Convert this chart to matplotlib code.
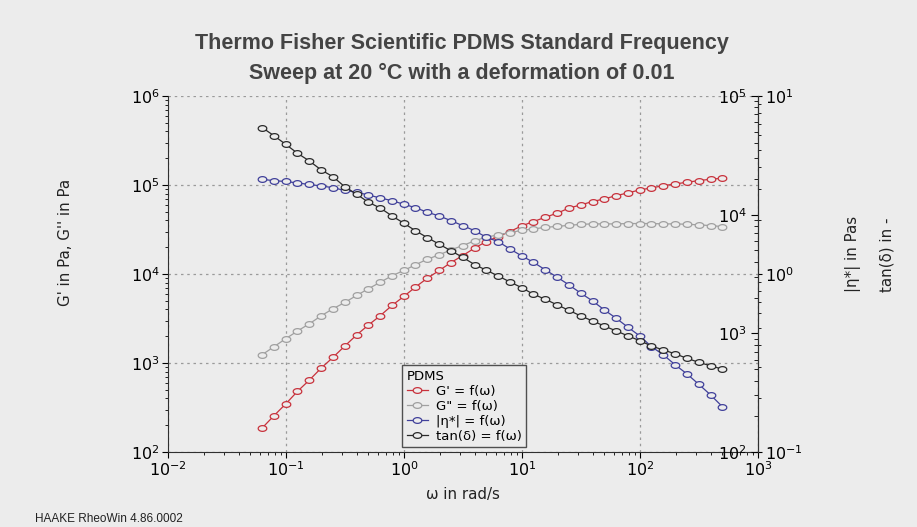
import numpy as np
import matplotlib
matplotlib.use("Agg")
import matplotlib.pyplot as plt

# angular frequency, rad/s
omega = [0.0628, 0.0791, 0.0995, 0.125, 0.158, 0.199, 0.250, 0.315, 0.396, 0.499,
         0.628, 0.791, 0.995, 1.25, 1.58, 1.99, 2.50, 3.15, 3.96, 4.99,
         6.28, 7.91, 9.95, 12.5, 15.8, 19.9, 25.0, 31.5, 39.6, 49.9,
         62.8, 79.1, 99.5, 125, 158, 199, 250, 315, 396, 499]

# storage modulus G', Pa
g_storage = [186, 256, 347, 480, 644, 879, 1156, 1552, 2062, 2668,
             3396, 4430, 5590, 7130, 8990, 10950, 13460, 16130, 19540, 23170,
             26370, 30000, 34750, 38800, 43500, 48300, 55000, 59800, 65200, 69800,
             76000, 81500, 88100, 92700, 98400, 102800, 107400, 112000, 116100, 119200]

# loss modulus G'', Pa
g_loss = [1240, 1524, 1875, 2286, 2762, 3396, 4068, 4786, 5736, 6823,
          8070, 9550, 10950, 12680, 14690, 16420, 18690, 20870, 23590, 25960,
          27540, 29220, 30930, 32150, 33420, 34290, 35210, 36140, 36560, 36560,
          36560, 36900, 36900, 36900, 36560, 36560, 36200, 35660, 35000, 34100]

# complex viscosity |eta*|, Pas
eta_complex = [19860, 19330, 19040, 18500, 17960, 17450, 16880, 15990, 15440, 14650,
               13830, 13120, 12240, 11450, 10470, 9750, 8900, 8080, 7330, 6450,
               5930, 5140, 4490, 3970, 3420, 2970, 2560, 2180, 1875, 1574,
               1340, 1125, 951, 773, 658, 542, 455, 372, 303, 241]

# loss factor tan(delta)
tan_delta = [6.65, 5.98, 5.35, 4.77, 4.31, 3.84, 3.52, 3.09, 2.81, 2.53,
             2.35, 2.12, 1.93, 1.75, 1.60, 1.47, 1.35, 1.24, 1.13, 1.05,
             0.975, 0.902, 0.838, 0.769, 0.721, 0.670, 0.625, 0.581, 0.545, 0.510,
             0.479, 0.449, 0.422, 0.394, 0.374, 0.356, 0.336, 0.319, 0.305, 0.292]

BG = "#ececec"
W, H = 917, 527

# open ellipse marker like RheoWin
theta = np.linspace(0, 2 * np.pi, 41)
ellipse = np.column_stack([1.5 * np.cos(theta), np.sin(theta)])

fig = plt.figure(figsize=(W / 100, H / 100), dpi=100, facecolor=BG)
ax = fig.add_axes([168 / W, 1 - 452 / H, (758 - 168) / W, (452 - 96) / H])
ax.set_facecolor(BG)
ax_eta = ax.twinx()
ax_tan = ax.twinx()

style = dict(marker=ellipse, markersize=6.2, markerfacecolor=BG, linewidth=0.9,
             markeredgewidth=0.9)
h1, = ax.plot(omega, g_storage, color="#c8323c", label="G' = f(\u03c9)", **style)
h2, = ax.plot(omega, g_loss, color="#a0a0a0", label='G" = f(\u03c9)', **style)
h3, = ax_eta.plot(omega, eta_complex, color="#40409a", label="|\u03b7*| = f(\u03c9)", **style)
h4, = ax_tan.plot(omega, tan_delta, color="#2a2a2a", label="tan(\u03b4) = f(\u03c9)", **style)

ax.set_xscale("log")
ax.set_yscale("log")
ax.set_xlim(1e-2, 1e3)
ax.set_ylim(1e2, 1e6)
ax.grid(True, which="major", linestyle=(0, (2, 3)), color="#9a9a9a", linewidth=0.9)
ax.set_axisbelow(True)
for s in ["top", "right"]:
    ax.spines[s].set_visible(False)
ax.tick_params(which="major", direction="out", length=4, labelsize=11.5, pad=2)
ax.tick_params(which="minor", direction="out", length=2.5)

# |eta*| axis: labels inside the plot, left of the right spine
ax_eta.set_yscale("log")
ax_eta.set_ylim(1e2, 1e5)
ax_eta.yaxis.set_ticks_position("left")
ax_eta.spines["left"].set_position(("axes", 1.0))
for s in ["top", "bottom", "right"]:
    ax_eta.spines[s].set_visible(False)
ax_eta.tick_params(axis="y", which="major", direction="out", length=5, labelsize=11.5, pad=3)
ax_eta.tick_params(axis="y", which="minor", direction="out", length=3)

# tan(delta) axis on the right
ax_tan.set_yscale("log")
ax_tan.set_ylim(1e-1, 1e1)
for s in ["top", "bottom", "left"]:
    ax_tan.spines[s].set_visible(False)
ax_tan.tick_params(axis="y", which="major", direction="out", length=3, labelsize=11.5, pad=2)
ax_tan.tick_params(axis="y", which="minor", direction="out", length=2)

for a in (ax, ax_eta, ax_tan):
    for sp in a.spines.values():
        sp.set_color("#303030")

leg = ax_tan.legend(handles=[h1, h2, h3, h4], title="PDMS", alignment="left",
                    loc="upper left", bbox_to_anchor=(402 / W, 1 - 365 / H),
                    bbox_transform=fig.transFigure, fontsize=9.5, title_fontsize=9.5,
                    fancybox=False, frameon=True, edgecolor="#505050", facecolor=BG,
                    framealpha=1, handlelength=1.6, handletextpad=0.6,
                    labelspacing=0.15, borderpad=0.35, borderaxespad=0)
leg.get_frame().set_linewidth(1.0)

# titles and axis labels
title_kw = dict(ha="center", va="center", fontsize=15.5, fontweight="bold",
                color="#444444", family="Liberation Sans")
fig.text(462 / W, 1 - 44 / H, "Thermo Fisher Scientific PDMS Standard Frequency", **title_kw)
fig.text(462 / W, 1 - 73 / H, "Sweep at 20 \u00b0C with a deformation of 0.01", **title_kw)

label_kw = dict(ha="center", va="center", fontsize=10.8, color="#222222")
fig.text(65 / W, 1 - 242 / H, "G' in Pa, G'' in Pa", rotation=90, **label_kw)
fig.text(853 / W, 1 - 254 / H, "|\u03b7*| in Pas", rotation=90, **label_kw)
fig.text(887 / W, 1 - 255 / H, "tan(\u03b4) in -", rotation=90, **label_kw)
fig.text(463 / W, 1 - 495 / H, "\u03c9 in rad/s", **label_kw)
fig.text(35 / W, 1 - 519 / H, "HAAKE RheoWin 4.86.0002", ha="left", va="center",
         fontsize=8.5, color="#222222", family="Liberation Sans")

fig.savefig("out.png", dpi=100, facecolor=BG)
